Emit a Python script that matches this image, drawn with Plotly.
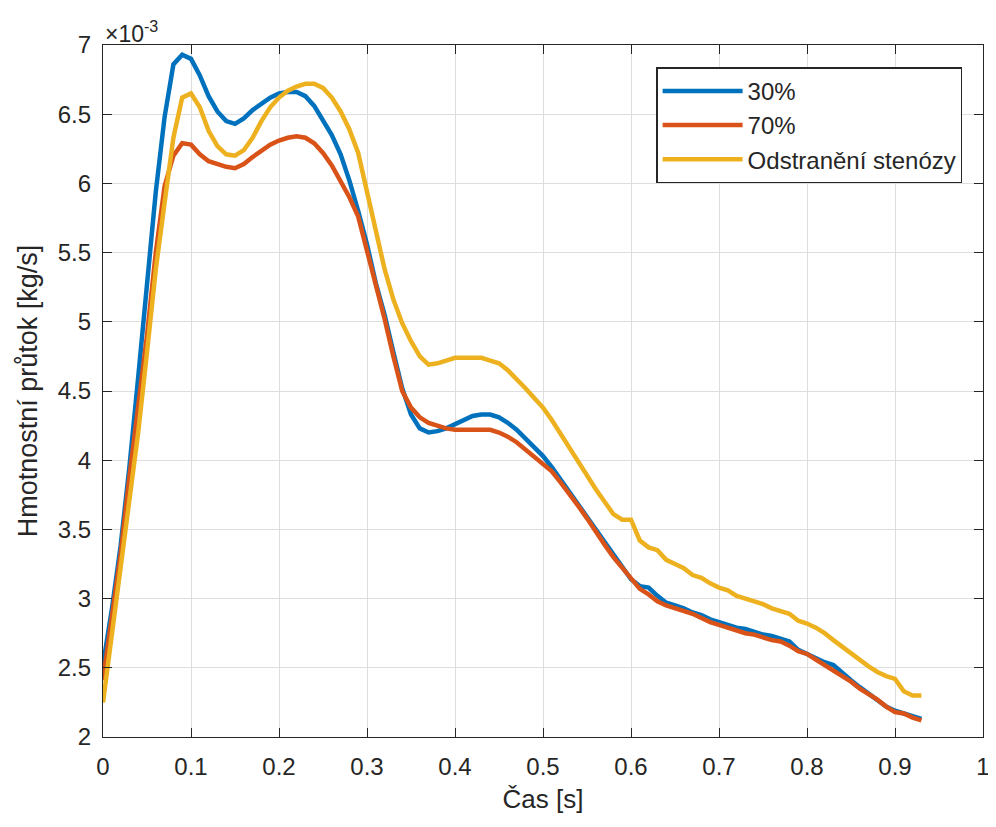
import plotly.graph_objects as go

# time axis [s]
cas = [round(i * 0.01, 2) for i in range(94)]

# mass flow [kg/s] x 1e-3
y30 = [2.52, 2.92, 3.38, 3.95, 4.60, 5.28, 5.94, 6.48, 6.86, 6.93,
       6.90, 6.78, 6.63, 6.52, 6.45, 6.43, 6.47, 6.53, 6.58, 6.62,
       6.65, 6.66, 6.66, 6.63, 6.56, 6.46, 6.35, 6.21, 6.02, 5.80,
       5.56, 5.28, 5.05, 4.78, 4.52, 4.33, 4.23, 4.20, 4.21, 4.23,
       4.26, 4.29, 4.32, 4.33, 4.33, 4.31, 4.27, 4.22, 4.16, 4.10,
       4.03, 3.95, 3.86, 3.77, 3.68, 3.59, 3.49, 3.40, 3.31, 3.22,
       3.14, 3.09, 3.08, 3.02, 2.97, 2.95, 2.93, 2.90, 2.88, 2.85,
       2.83, 2.81, 2.79, 2.78, 2.76, 2.74, 2.73, 2.71, 2.69, 2.63,
       2.60, 2.57, 2.54, 2.52, 2.46, 2.41, 2.36, 2.31, 2.26, 2.22,
       2.19, 2.17, 2.15, 2.13]

y70 = [2.41, 2.85, 3.32, 3.88, 4.40, 4.90, 5.50, 5.98, 6.20, 6.29,
       6.28, 6.21, 6.16, 6.14, 6.12, 6.11, 6.14, 6.19, 6.24, 6.28,
       6.31, 6.33, 6.34, 6.33, 6.29, 6.22, 6.13, 6.02, 5.90, 5.76,
       5.52, 5.28, 5.02, 4.75, 4.50, 4.38, 4.31, 4.27, 4.25, 4.23,
       4.22, 4.22, 4.22, 4.22, 4.22, 4.20, 4.17, 4.13, 4.08, 4.03,
       3.98, 3.92, 3.84, 3.76, 3.67, 3.58, 3.48, 3.39, 3.30, 3.22,
       3.14, 3.07, 3.03, 2.98, 2.95, 2.93, 2.91, 2.89, 2.86, 2.83,
       2.81, 2.79, 2.77, 2.75, 2.74, 2.72, 2.70, 2.69, 2.66, 2.62,
       2.60, 2.56, 2.52, 2.48, 2.44, 2.40, 2.35, 2.31, 2.27, 2.22,
       2.18, 2.17, 2.14, 2.12]

y_odstr = [2.25, 2.75, 3.25, 3.75, 4.20, 4.78, 5.38, 5.86, 6.33, 6.62,
           6.65, 6.55, 6.38, 6.27, 6.21, 6.20, 6.24, 6.33, 6.45, 6.55,
           6.62, 6.67, 6.70, 6.72, 6.72, 6.69, 6.62, 6.52, 6.39, 6.22,
           5.95, 5.66, 5.38, 5.16, 4.99, 4.86, 4.75, 4.69, 4.70, 4.72,
           4.74, 4.74, 4.74, 4.74, 4.72, 4.70, 4.65, 4.59, 4.52, 4.45,
           4.38, 4.29, 4.19, 4.09, 3.98, 3.88, 3.79, 3.70, 3.61, 3.57,
           3.57, 3.42, 3.37, 3.35, 3.28, 3.25, 3.22, 3.17, 3.15, 3.11,
           3.08, 3.06, 3.02, 3.00, 2.98, 2.96, 2.93, 2.91, 2.89, 2.84,
           2.82, 2.79, 2.75, 2.70, 2.65, 2.61, 2.56, 2.51, 2.47, 2.44,
           2.42, 2.33, 2.30, 2.30]

series_names = ["30%", "70%", "Odstranění stenózy"]
series_colors = ["#0072BD", "#D95319", "#EDB120"]
series_vals = [y30, y70, y_odstr]

x_ticks = [round(i * 0.1, 1) for i in range(11)]
y_ticks = [2 + 0.5 * i for i in range(11)]

FONT = "Liberation Sans, Arial, Helvetica, sans-serif"
TXT = "#262626"

fig = go.Figure()
for name, col, vals in zip(series_names, series_colors, series_vals):
    fig.add_trace(go.Scatter(x=cas, y=vals, mode="lines", name=name,
                             line=dict(color=col, width=4.5)))

axis_common = dict(
    showgrid=True, gridcolor="#dedede", gridwidth=1,
    showline=True, linecolor=TXT, linewidth=1.3, mirror="ticks",
    ticks="inside", ticklen=9, tickcolor=TXT, tickwidth=1,
    zeroline=False, automargin=False,
    tickfont=dict(family=FONT, size=24, color=TXT),
)

fig.update_xaxes(range=[0, 1], tickvals=x_ticks,
                 ticktext=[("%g" % v) for v in x_ticks],
                 title=dict(text="Čas [s]", font=dict(family=FONT, size=26, color=TXT),
                            standoff=10),
                 ticklabelstandoff=8,
                 **axis_common)
fig.update_yaxes(range=[2, 7], tickvals=y_ticks,
                 ticktext=[("%g" % v) for v in y_ticks],
                 title=dict(text="Hmotnostní průtok [kg/s]",
                            font=dict(family=FONT, size=27, color=TXT), standoff=12),
                 ticklabelstandoff=6,
                 **axis_common)

fig.add_annotation(xref="paper", yref="paper", x=0.0, y=1.0, xanchor="left",
                   yanchor="bottom", showarrow=False,
                   text="×10<sup>-3</sup>",
                   font=dict(family=FONT, size=23, color=TXT), yshift=-4)

fig.update_layout(
    width=996, height=827,
    margin=dict(l=95, r=21, t=37, b=98),
    paper_bgcolor="white", plot_bgcolor="white",
    font=dict(family=FONT, color=TXT),
    legend=dict(x=0.9765, y=0.9675, xanchor="right", yanchor="top",
                bgcolor="white", bordercolor=TXT, borderwidth=1.3,
                font=dict(family=FONT, size=24, color=TXT),
                tracegroupgap=0, itemwidth=80),
    showlegend=True,
)

fig.write_html("out.html")
